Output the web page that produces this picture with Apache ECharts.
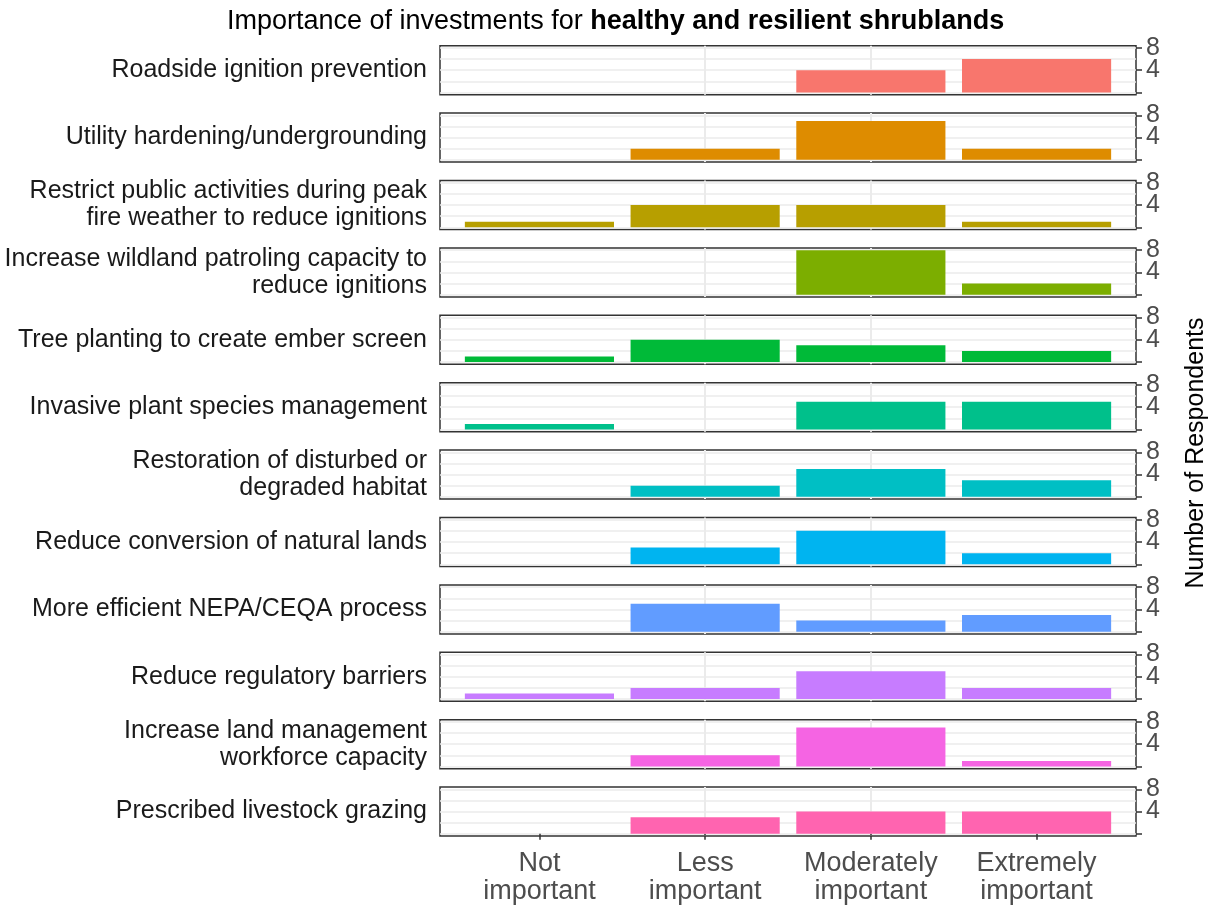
<!DOCTYPE html>
<html>
<head>
<meta charset="utf-8">
<script src="https://cdn.jsdelivr.net/npm/echarts@6/dist/echarts.min.js"></script>
<style>
html,body{margin:0;padding:0;background:#fff;}
#c{width:1217px;height:911px;}
</style>
</head>
<body>
<div id="c"></div>
<script>
// ---------- data ----------
const categories = ['Not\nimportant', 'Less\nimportant', 'Moderately\nimportant', 'Extremely\nimportant'];
const items = [
  'Roadside ignition prevention',
  'Utility hardening/undergrounding',
  'Restrict public activities during peak\nfire weather to reduce ignitions',
  'Increase wildland patroling capacity to\nreduce ignitions',
  'Tree planting to create ember screen',
  'Invasive plant species management',
  'Restoration of disturbed or\ndegraded habitat',
  'Reduce conversion of natural lands',
  'More efficient NEPA/CEQA process',
  'Reduce regulatory barriers',
  'Increase land management\nworkforce capacity',
  'Prescribed livestock grazing'
];
const notImportant        = [0, 0, 1, 0, 1, 1, 0, 0, 0, 1, 0, 0];
const lessImportant       = [0, 2, 4, 0, 4, 0, 2, 3, 5, 2, 2, 3];
const moderatelyImportant = [4, 7, 4, 8, 3, 5, 5, 6, 2, 5, 7, 4];
const extremelyImportant  = [6, 2, 1, 2, 2, 5, 3, 2, 3, 2, 1, 4];
const yTickValues = [0, 4, 8];
const yLowLabel = 4;
const yHighLabel = 8;
const colors = ['#F8766D', '#DE8C00', '#B79F00', '#7CAE00', '#00BA38', '#00C08B',
                '#00BFC4', '#00B4F0', '#619CFF', '#C77CFF', '#F564E3', '#FF64B0'];
const titleNormal = 'Importance of investments for ';
const titleBold = 'healthy and resilient shrublands';
const yName = 'Number of Respondents';

// ---------- layout ----------
const PANEL_LEFT = 440, PANEL_W = 696;
const TOP0 = 45.7, PERIOD = 67.4, PANEL_H = 49;
const X_MIN = 0.4, X_MAX = 4.6, Y_MIN = -0.4, Y_MAX = 8.4;
const FONT = '"Liberation Sans", Arial, sans-serif';
const barPx = 0.9 * PANEL_W / (X_MAX - X_MIN);
const n = items.length;

const yLabelStyle = {
  show: true, margin: 10, hideOverlap: false,
  fontFamily: FONT, fontSize: 25, color: '#4D4D4D'
};

const grids = [], xAxes = [], yAxes = [], series = [], graphics = [];
for (let i = 0; i < n; i++) {
  const last = i === n - 1;
  const top = TOP0 + i * PERIOD;
  grids.push({
    left: PANEL_LEFT, width: PANEL_W, top: top, height: PANEL_H,
    show: true, borderColor: '#333333', borderWidth: 1.5, backgroundColor: '#ffffff'
  });
  xAxes.push({
    type: 'value', gridIndex: i, min: X_MIN, max: X_MAX, minInterval: 1, maxInterval: 1,
    axisLine: { show: false },
    axisTick: { show: last, length: 6, lineStyle: { color: '#333333', width: 1.5 },
                customValues: [1, 2, 3, 4] },
    axisLabel: {
      show: last, customValues: [1, 2, 3, 4], margin: 13, hideOverlap: false,
      fontFamily: FONT, fontSize: 27, color: '#4D4D4D', lineHeight: 28, align: 'center',
      formatter: v => (Number.isInteger(v) && v >= 1 && v <= 4) ? categories[v - 1] : ''
    },
    splitLine: { show: true, showMinLine: false, showMaxLine: false, lineStyle: { color: '#EBEBEB', width: 2 } }
  });
  // axis A: ticks at 0/4/8 and the "4" label; carries the bars
  yAxes.push({
    type: 'value', gridIndex: i, position: 'right', min: Y_MIN, max: Y_MAX,
    axisLine: { show: false },
    axisTick: { show: true, customValues: yTickValues, length: 6, lineStyle: { color: '#333333', width: 1.5 } },
    axisLabel: Object.assign({}, yLabelStyle, {
      customValues: [yLowLabel],
      formatter: v => v === yLowLabel ? String(v) : ''
    }),
    splitLine: { show: false }
  });
  // axis B: grid lines every 2 and the "8" label
  yAxes.push({
    type: 'value', gridIndex: i, position: 'right', min: Y_MIN, max: Y_MAX, minInterval: 2, maxInterval: 2,
    axisLine: { show: false },
    axisTick: { show: false },
    axisLabel: Object.assign({}, yLabelStyle, {
      customValues: [yHighLabel],
      formatter: v => v === yHighLabel ? String(v) : ''
    }),
    splitLine: { show: true, showMinLine: false, showMaxLine: false, lineStyle: { color: '#EBEBEB', width: 1.5 } }
  });
  series.push({
    type: 'bar', xAxisIndex: i, yAxisIndex: 2 * i, barWidth: barPx,
    itemStyle: { color: colors[i] },
    data: [[1, notImportant[i]], [2, lessImportant[i]], [3, moderatelyImportant[i]], [4, extremelyImportant[i]]]
  });
  graphics.push({
    type: 'text', x: 427, y: top + PANEL_H / 2,
    style: {
      text: items[i], align: 'right', verticalAlign: 'middle',
      font: '25px ' + FONT, fill: '#1A1A1A', lineHeight: 27
    }
  });
}
graphics.push({
  type: 'text', x: 1196, y: 453, rotation: Math.PI / 2,
  style: { text: yName, align: 'center', verticalAlign: 'middle', font: '25px ' + FONT, fill: '#000000' }
});

const chart = echarts.init(document.getElementById('c'), null, { renderer: 'canvas' });
chart.setOption({
  animation: false,
  backgroundColor: '#ffffff',
  title: {
    text: '{n|' + titleNormal + '}{b|' + titleBold + '}',
    left: 222, top: 3,
    textStyle: {
      fontWeight: 'normal',
      rich: {
        n: { fontFamily: FONT, fontSize: 27, fontWeight: 'normal', color: '#000000' },
        b: { fontFamily: FONT, fontSize: 27, fontWeight: 'bold', color: '#000000' }
      }
    }
  },
  grid: grids,
  xAxis: xAxes,
  yAxis: yAxes,
  series: series,
  graphic: graphics
});
</script>
</body>
</html>
